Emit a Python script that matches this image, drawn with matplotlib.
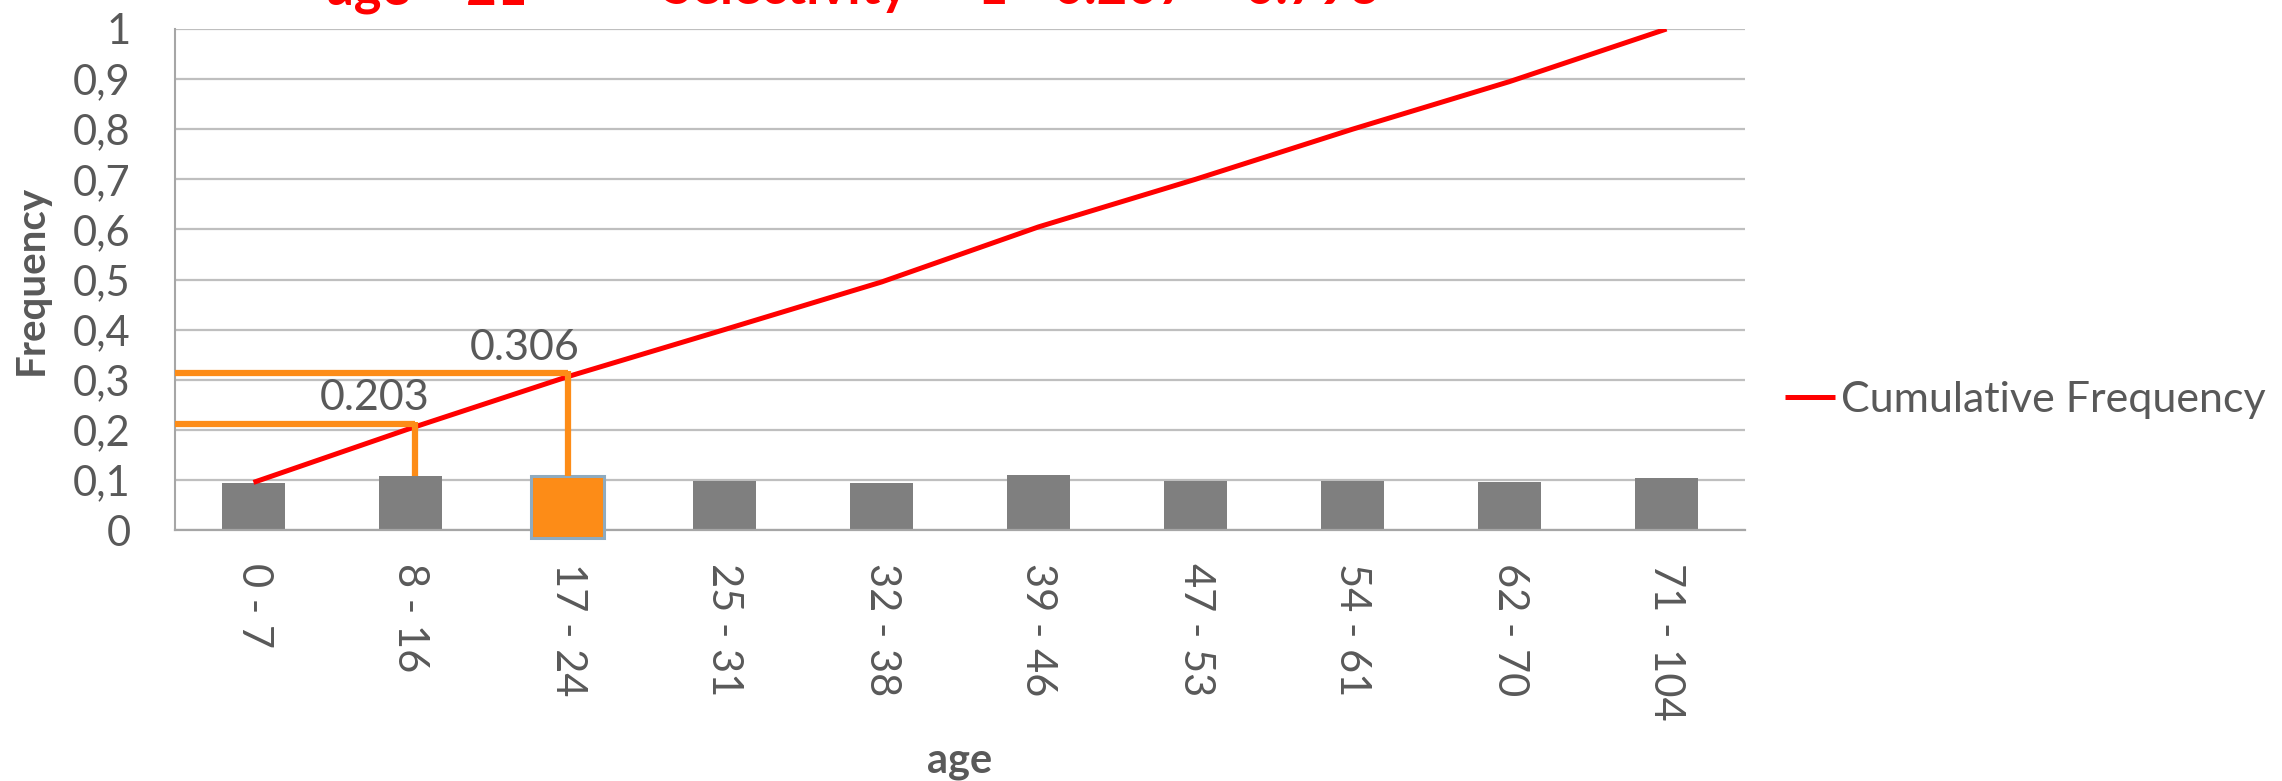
import matplotlib
matplotlib.use("Agg")
import matplotlib.pyplot as plt
import numpy as np

# --- DATA ---
age_groups = ["0 - 7", "8 - 16", "17 - 24", "25 - 31", "32 - 38",
              "39 - 46", "47 - 53", "54 - 61", "62 - 70", "71 - 104"]
frequency = [0.094, 0.108, 0.103, 0.097, 0.093, 0.110, 0.097, 0.097, 0.095, 0.104]
cumulative = [0.095, 0.203, 0.306, 0.40, 0.495, 0.605, 0.70, 0.80, 0.895, 1.0]
y_ticks = [0, 0.1, 0.2, 0.3, 0.4, 0.5, 0.6, 0.7, 0.8, 0.9, 1.0]
y_tick_labels = ["0", "0,1", "0,2", "0,3", "0,4", "0,5", "0,6", "0,7", "0,8", "0,9", "1"]
highlight_idx = 2
marks = [(1, 0.212, "0.203"), (2, 0.313, "0.306")]   # (category, level, label)

# --- STYLE ---
GRAY_TEXT = "#595959"
GRID = "#BFBFBF"
BAR = "#7F7F7F"
ORANGE = "#FD8C17"
plt.rcParams["font.family"] = ["Lato", "DejaVu Sans"]

fig = plt.figure(figsize=(22.82, 7.81), dpi=100)
ax = fig.add_axes([175 / 2282, 1 - 530 / 781, 1570 / 2282, 501 / 781])

x = np.arange(len(age_groups))
ax.bar(x, frequency, width=0.40, color=BAR, zorder=2)

# highlighted selection box
ax.bar(x[highlight_idx], frequency[highlight_idx] + 0.02, bottom=-0.016, width=0.46,
       color=ORANGE, edgecolor="#8FABBF", linewidth=2.2, zorder=3, clip_on=False)

line, = ax.plot(x, cumulative, color="#FF0000", linewidth=3.6, zorder=4,
                label="Cumulative Frequency", solid_capstyle="butt")

# orange guide lines
for (ci, lvl, txt), dx in zip(marks, [0.03, 0.0]):
    xv = ci + dx
    ax.plot([-0.5, xv], [lvl, lvl], color=ORANGE, linewidth=4.5, zorder=5,
            solid_capstyle="butt")
    ax.plot([xv, xv], [lvl + 0.004, 0.108], color=ORANGE, linewidth=4.5, zorder=5,
            solid_capstyle="butt")

ax.text(0.77, 0.264, marks[0][2], ha="center", va="center", fontsize=31, color=GRAY_TEXT, zorder=6)
ax.text(1.73, 0.364, marks[1][2], ha="center", va="center", fontsize=31, color=GRAY_TEXT, zorder=6)

ax.set_xlim(-0.5, len(x) - 0.5)
ax.set_ylim(0, 1)
ax.set_yticks(y_ticks)
ax.set_yticklabels(y_tick_labels)
ax.set_xticks(x)
ax.set_xticklabels(age_groups, rotation=-90, va="top", ha="center")
ax.tick_params(axis="y", length=0, pad=32, labelsize=30, labelcolor=GRAY_TEXT)
ax.tick_params(axis="x", length=0, pad=24, labelsize=30, labelcolor=GRAY_TEXT)

ax.grid(axis="y", color=GRID, linewidth=1.6, zorder=0)
ax.set_axisbelow(True)
for s in ["top", "right"]:
    ax.spines[s].set_visible(False)
ax.spines["left"].set_color("#A6A6A6")
ax.spines["left"].set_linewidth(1.5)
ax.spines["bottom"].set_color("#A6A6A6")
ax.spines["bottom"].set_linewidth(1.6)

ax.set_ylabel("Frequency", fontsize=29, fontweight="bold", color=GRAY_TEXT)
ax.yaxis.set_label_coords(-0.0796, 0.5)
fig.text(960 / 2282, 1 - 772 / 781, "age", ha="center", va="baseline",
         fontsize=30, fontweight="bold", color=GRAY_TEXT)

fig.legend(handles=[line], loc="center left", bbox_to_anchor=(1785 / 2282, 1 - 400 / 781),
           frameon=False, fontsize=31, handlelength=1.15, handletextpad=0.15,
           borderpad=0, borderaxespad=0, labelcolor=GRAY_TEXT)

# title is cut off at the top edge in the original
fig.text(327 / 2282, 1 - 4 / 781, "age > 21", ha="left", va="baseline",
         fontsize=38, fontweight="bold", color="#FF0000")
fig.text(663 / 2282, 1 - 4 / 781, "Selectivity  = 1 - 0.207 = 0.793", ha="left", va="baseline",
         fontsize=38, fontweight="bold", color="#FF0000")

fig.savefig("out.png", dpi=100)
